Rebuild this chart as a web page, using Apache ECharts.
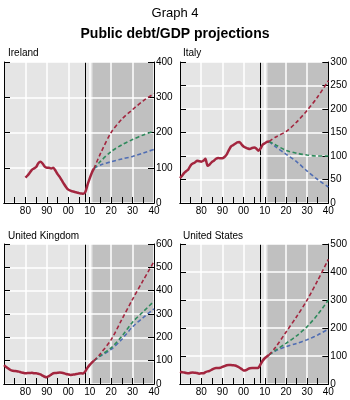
<!DOCTYPE html>
<html>
<head>
<meta charset="utf-8">
<script src="https://cdn.jsdelivr.net/npm/echarts@6/dist/echarts.min.js"></script>
<style>
  html, body { margin: 0; padding: 0; background: #fff; }
  #chart { width: 350px; height: 400px; }
</style>
</head>
<body>
<div id="chart"></div>
<script>
// projection years shared by all panels
var projYears = [2012, 2015, 2020, 2025, 2030, 2035, 2040];

var irelandStart = 1980;
var irelandHist = [72, 78, 86, 94, 98, 102, 113, 117, 112, 103, 100, 100, 98, 100, 92, 82, 74, 64, 54, 45,
  38, 35, 33, 31, 30, 28, 27, 26, 32, 52, 70, 86, 98];
var irelandRed = [98, 140, 200, 238, 265, 290, 310];
var irelandGreen = [98, 118, 146, 165, 180, 193, 204];
var irelandBlue = [98, 108, 117, 125, 132, 142, 152];

var italyStart = 1970;
var italyHist = [53, 58, 64, 68, 72, 80, 84, 86, 90, 89, 88, 90, 94, 79, 82, 87, 90, 94, 96, 95,
  95, 98, 103, 112, 120, 123, 126, 129, 130, 125, 120, 118, 116, 115, 117, 118, 116, 111, 116, 124,
  127, 130, 131];
var italyRed = [131, 140, 152, 172, 197, 226, 260];
var italyGreen = [131, 124, 112, 106, 102, 100, 100];
var italyBlue = [131, 120, 104, 88, 68, 50, 34];

var ukStart = 1970;
var ukHist = [81, 73, 66, 60, 57, 56, 55, 53, 50, 48, 46, 47, 47, 48, 46, 46, 44, 41, 36, 31,
  29, 34, 40, 46, 47, 48, 49, 48, 46, 43, 41, 39, 40, 41, 43, 45, 46, 45, 55, 70,
  82, 92, 100];
var ukRed = [100, 130, 190, 277, 363, 445, 525];
var ukGreen = [100, 122, 155, 205, 265, 310, 355];
var ukBlue = [100, 120, 148, 192, 245, 285, 322];

var usStart = 1970;
var usHist = [44, 42, 41, 39, 38, 40, 41, 40, 39, 37, 38, 38, 42, 45, 47, 51, 55, 57, 57, 58,
  61, 64, 67, 68, 68, 67, 66, 63, 59, 54, 48, 49, 53, 56, 57, 57, 57, 58, 70, 83,
  92, 98, 104];
var usRed = [104, 130, 185, 240, 300, 370, 445];
var usGreen = [104, 120, 145, 172, 205, 248, 300];
var usBlue = [104, 118, 133, 145, 158, 175, 196];

var panelNames = ['Ireland', 'Italy', 'United Kingdom', 'United States'];
var yMaxes = [400, 300, 600, 500];
var ySteps = [100, 50, 100, 100];
var lastActual = 2007.8;
var projFrom = 2011.3;

var panels = [
  { start: irelandStart, hist: irelandHist, red: irelandRed, green: irelandGreen, blue: irelandBlue },
  { start: italyStart, hist: italyHist, red: italyRed, green: italyGreen, blue: italyBlue },
  { start: ukStart, hist: ukHist, red: ukRed, green: ukGreen, blue: ukBlue },
  { start: usStart, hist: usHist, red: usRed, green: usGreen, blue: usBlue }
];

var gridPos = [
  { left: 4, top: 62, width: 150, height: 141 },
  { left: 180, top: 62, width: 149, height: 141 },
  { left: 4, top: 244, width: 150, height: 140 },
  { left: 180, top: 244, width: 149, height: 140 }
];
var namePos = [
  { left: 3, top: 43 }, { left: 178, top: 43 },
  { left: 3, top: 226 }, { left: 178, top: 226 }
];

var FONT = '"Liberation Sans", Arial, sans-serif';
var RED = '#a3263f', GREEN = '#2f8a5c', BLUE = '#4f6db3';

function histPairs(start, vals) {
  return vals.map(function(v, i) { return [start + i, v]; });
}
function projPairs(vals) {
  return vals.map(function(v, i) { return [projYears[i], v]; });
}
function yearLabel(v) {
  if (v === 1970) return '';
  var s = String(v % 100);
  return s.length < 2 ? '0' + s : s;
}

var grids = [], xAxes = [], yAxes = [], series = [], titles = [];

titles.push({ text: 'Graph 4', left: 'center', top: 2,
  textStyle: { fontFamily: FONT, fontSize: 13, fontWeight: 'normal', color: '#000' } });
titles.push({ text: 'Public debt/GDP projections', left: 'center', top: 22,
  textStyle: { fontFamily: FONT, fontSize: 14, fontWeight: 'bold', color: '#000' } });

panels.forEach(function(p, i) {
  titles.push({ text: panelNames[i], left: namePos[i].left, top: namePos[i].top,
    textStyle: { fontFamily: FONT, fontSize: 10, fontWeight: 'normal', color: '#000' } });

  grids.push({
    left: gridPos[i].left, top: gridPos[i].top, width: gridPos[i].width, height: gridPos[i].height,
    show: true, backgroundColor: '#e5e5e5', borderWidth: 0, zlevel: 0
  });

  // axes live on a layer above the shading so the white grid lines stay visible
  xAxes.push({
    gridIndex: i, type: 'value', min: 1970, max: 2040, interval: 10, zlevel: 1, z: 1,
    axisLine: { show: true, lineStyle: { color: '#000', width: 1 } },
    axisTick: { show: true, inside: true, length: 6, lineStyle: { color: '#000' } },
    minorTick: { show: true, splitNumber: 2, length: 6, lineStyle: { color: '#000' } },
    splitLine: { show: true, lineStyle: { color: '#ffffff', width: 1.5, opacity: 1 } },
    axisLabel: { formatter: yearLabel, fontFamily: FONT, fontSize: 10, color: '#000', margin: 3 }
  });
  xAxes.push({
    gridIndex: i, type: 'value', position: 'top', min: 1970, max: 2040, zlevel: 1, z: 1,
    axisLine: { show: true, lineStyle: { color: '#000', width: 1 } },
    axisTick: { show: false }, axisLabel: { show: false }, splitLine: { show: false }
  });

  yAxes.push({
    gridIndex: i, type: 'value', position: 'right', min: 0, max: yMaxes[i], interval: ySteps[i],
    zlevel: 1, z: 1,
    axisLine: { show: true, lineStyle: { color: '#000', width: 1 } },
    axisTick: { show: true, inside: true, length: 6, lineStyle: { color: '#000' } },
    splitLine: { show: true, lineStyle: { color: '#ffffff', width: 1.5, opacity: 1 } },
    axisLabel: { fontFamily: FONT, fontSize: 10, color: '#000', margin: 2 }
  });
  yAxes.push({
    gridIndex: i, type: 'value', position: 'left', min: 0, max: yMaxes[i], interval: ySteps[i],
    zlevel: 1, z: 1,
    axisLine: { show: true, lineStyle: { color: '#000', width: 1 } },
    axisTick: { show: true, inside: true, length: 6, lineStyle: { color: '#000' } },
    splitLine: { show: false }, axisLabel: { show: false }
  });

  var xi = i * 2, yi = i * 2;

  // projection period shading, on the bottom layer
  series.push({
    type: 'line', xAxisIndex: xi, yAxisIndex: yi, zlevel: 0, z: 2, silent: true,
    symbol: 'none', data: [[projFrom, yMaxes[i]], [2040, yMaxes[i]]],
    lineStyle: { width: 0 },
    areaStyle: { color: '#c0c0c0', opacity: 1 }
  });

  // last actual observation
  series.push({
    type: 'line', xAxisIndex: xi, yAxisIndex: yi, data: [], zlevel: 1, z: 3, silent: true,
    markLine: {
      silent: true, symbol: 'none', label: { show: false },
      lineStyle: { color: '#000', type: 'solid', width: 1 },
      data: [{ xAxis: lastActual }]
    }
  });

  [[p.blue, BLUE], [p.green, GREEN], [p.red, RED]].forEach(function(s) {
    series.push({
      type: 'line', xAxisIndex: xi, yAxisIndex: yi, zlevel: 1, z: 5, smooth: 0.3,
      symbol: 'none', data: projPairs(s[0]),
      lineStyle: { color: s[1], width: 1.6, type: [4, 2.5] }
    });
  });

  series.push({
    type: 'line', xAxisIndex: xi, yAxisIndex: yi, zlevel: 1, z: 6, smooth: 0.2,
    symbol: 'none', data: histPairs(p.start, p.hist),
    lineStyle: { color: RED, width: 2.5 }
  });
});

var chart = echarts.init(document.getElementById('chart'));
chart.setOption({
  animation: false,
  backgroundColor: '#fff',
  title: titles,
  grid: grids,
  xAxis: xAxes,
  yAxis: yAxes,
  series: series
});

window.onresize = function() {
  chart.resize();
};
</script>
</body>
</html>
